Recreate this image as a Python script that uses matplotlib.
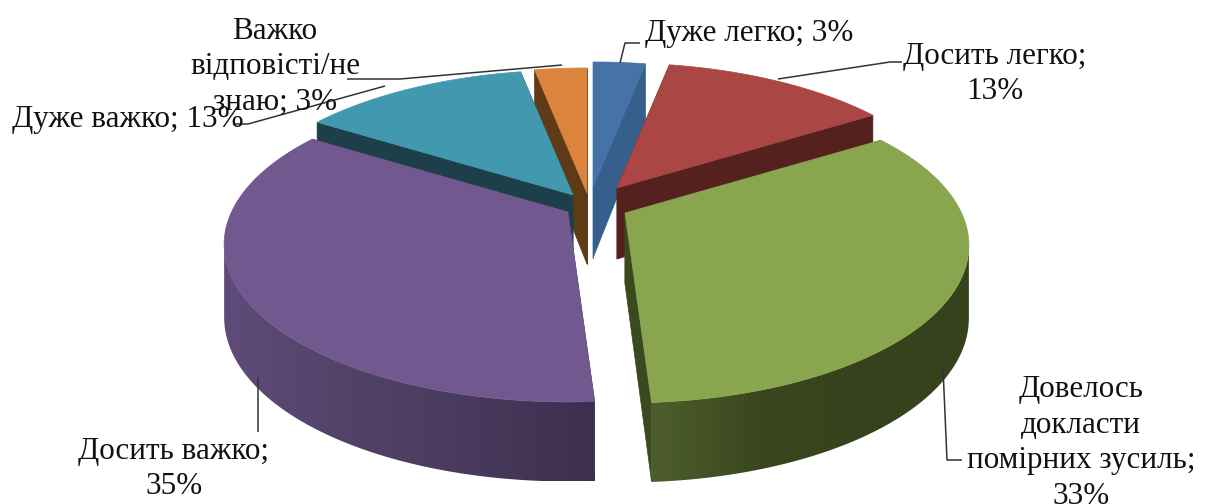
import numpy as np
import matplotlib
matplotlib.use('Agg')
import matplotlib.pyplot as plt
from matplotlib.colors import LinearSegmentedColormap
from matplotlib.patches import Polygon

# Категории и доли, %
categories = ['Дуже легко', 'Досить легко', 'Довелось докласти помірних зусиль',
              'Досить важко', 'Дуже важко', 'Важко відповісти/не знаю']
shares = [3, 13, 33, 35, 13, 3]

top_colors = ['#4572A7', '#AA4643', '#89A54E', '#71588F', '#4198AF', '#DB843D']
face_colors = ['#365F8C', '#55211F', '#3B4A1E', '#3E3050', '#1C3F4A', '#5F3A17']
rim_colors = {2: ['#4E5E2B', '#3A471E', '#36421C', '#36421C'],
              3: ['#5F4B7A', '#524268', '#483A5C', '#3D2F4F']}

# Сдвиг секторов (взрыв) в пикселях
shift_x = [-4, 20, 28, -29, -24, -10]
shift_y = [-13, -12, 13, 12, -5, -7]
draw_order = [5, 0, 1, 4, 2, 3]

center_x, center_y = 597, 200
radius_x, radius_y = 336.5, 150.8
persp = 0.206
depth = 71


def project(i, t):
    # Точка на краю сектора: перспектива по глубине диска
    x = np.sin(t)
    y = np.cos(t)
    w = 1 + persp * y
    px = center_x + shift_x[i] + radius_x * x / w
    py = center_y + shift_y[i] - radius_y * y / w
    return px, py, depth * (1 - 0.12 * y)


fig = plt.figure(figsize=(12.12, 5.04), dpi=100)
ax = fig.add_axes([0, 0, 1, 1])
ax.axis('off')

edges = np.cumsum([0] + shares) / sum(shares) * 2 * np.pi

z = 1
for i in draw_order:
    t0, t1 = edges[i], edges[i + 1]
    apex = (center_x + shift_x[i], center_y + shift_y[i])
    apex_low = (apex[0], apex[1] + depth)

    # Боковые грани вдоль радиусов
    for t in (t0, t1):
        px, py, d = project(i, t)
        ax.add_patch(Polygon([apex, (px, py), (px, py + d), apex_low], closed=True,
                             fc=face_colors[i], ec=face_colors[i], lw=0.5, zorder=z))
        z += 1

    ts = np.linspace(t0, t1, 240)
    xs, ys, ds = project(i, ts)

    # Внешняя стенка с градиентом (от крайней точки контура вперёд)
    if i in rim_colors:
        keep = np.cos(ts) < -persp
        rx, ry, rd = xs[keep], ys[keep], ds[keep]
        outline = list(zip(rx, ry)) + list(zip(rx[::-1], (ry + rd)[::-1]))
        rim = Polygon(outline, closed=True, fc='none', ec='none', transform=ax.transData)
        ax.add_patch(rim)
        cmap = LinearSegmentedColormap.from_list('rim', rim_colors[i])
        grad = np.linspace(0, 1, 256).reshape(1, -1)
        img = ax.imshow(grad, cmap=cmap, aspect='auto', zorder=z,
                        extent=(rx.min(), rx.max(), (ry + rd).max(), ry.min()))
        img.set_clip_path(rim)
        z += 1

    # Верхняя поверхность
    pts = [apex] + list(zip(xs, ys))
    ax.add_patch(Polygon(pts, closed=True, fc=top_colors[i], ec=top_colors[i], lw=0.5, zorder=z))
    z += 1

ax.set_xlim(0, 1212)
ax.set_ylim(504, 0)

# Линии выноски
leader_color = '#333333'
leaders = [
    ([620, 625, 640], [63, 43, 43]),
    ([778, 890, 902], [79, 62, 62]),
    ([943, 947, 962], [368, 460, 460]),
    ([258, 258], [377, 432]),
    ([235, 248, 385], [124, 124, 86]),
    ([347, 400, 562], [79, 79, 65]),
]
for lx, ly in leaders:
    ax.plot(lx, ly, color=leader_color, lw=1.1, solid_capstyle='butt', zorder=z)

# Подписи
font = dict(family=['Liberation Serif', 'DejaVu Serif'], fontsize=22.4, color='#111111',
            linespacing=1.31, ma='center', zorder=z + 1)
ax.text(645, 33, 'Дуже легко; 3%', ha='left', va='center', **font)
ax.text(995, 74, 'Досить легко;\n13%', ha='center', va='center', **font)
ax.text(1081, 443, 'Довелось\nдокласти\nпомірних зусиль;\n33%', ha='center', va='center', **font)
ax.text(174, 469, 'Досить важко;\n35%', ha='center', va='center', **font)
ax.text(12, 120, 'Дуже важко; 13%', ha='left', va='center', **font)
ax.text(275, 67, 'Важко\nвідповісті/не\nзнаю; 3%', ha='center', va='center', **font)

fig.savefig('out.png', dpi=100)
